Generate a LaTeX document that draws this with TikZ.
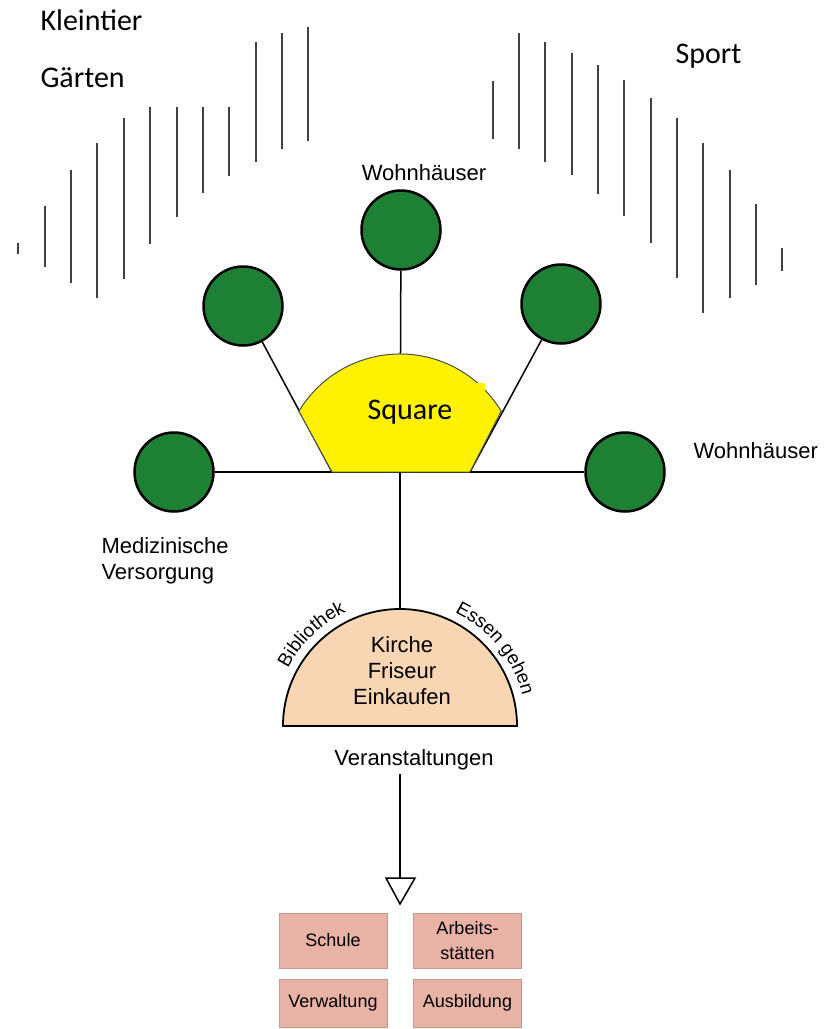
\documentclass[tikz,border=0pt]{standalone}
\usepackage{fontspec}
\setmainfont{Liberation Sans}
\newfontfamily\calibfont{Carlito}
\usetikzlibrary{decorations.text}
\usetikzlibrary{positioning}

\definecolor{parkgreen}{RGB}{30,128,52}
\definecolor{squareyellow}{RGB}{255,242,0}
\definecolor{peach}{RGB}{248,214,180}
\definecolor{salmon}{RGB}{232,178,165}
\definecolor{boxedge}{RGB}{195,152,142}
\definecolor{hatchgray}{RGB}{65,65,65}

\begin{document}
\begin{tikzpicture}[x=1pt, y=1pt, every node/.style={font=\fontsize{22}{26}\selectfont},
    house/.style={circle, draw=black, line width=2.5pt, fill=parkgreen, minimum size=79pt, inner sep=0pt},
    hatch/.style={line width=2pt, draw=hatchgray},
    spoke/.style={line width=1.5pt, draw=black},
    calib/.style={font=\calibfont\fontsize{30}{36}\selectfont},
    usebox/.style={draw=boxedge, fill=salmon, minimum width=108pt, inner sep=0pt, align=center, font=\fontsize{18}{25}\selectfont}]
    \useasboundingbox (0,0) rectangle (831,-1029);

    % lines of the gardens and the sports ground
    \foreach \x/\ya/\yb in {18/243/254, 45/206/267, 71/170/283, 97/143/298, 124/118/279, 150/107/244,
        177/107/217, 203/107/193, 229/107/176, 256/42/162, 282/33/149, 308/27/141}
        \draw[hatch] (\x,-\ya) -- (\x,-\yb);
    \foreach \x/\ya/\yb in {493/81/139, 519/33/149, 545/42/162, 572/53/175, 598/65/194, 624/80/216,
        651/98/243, 677/118/278, 703/143/313, 730/170/298, 756/204/285, 782/248/271}
        \draw[hatch] (\x,-\ya) -- (\x,-\yb);
    \node[calib, anchor=base west] (KT) at (37,-30) {Kleintier};
    \node[calib, anchor=base west] (GA) at (37,-87) {Gärten};
    \node[calib, anchor=base west] (SP) at (672,-63) {Sport};

    % houses round the square
    \coordinate (hub) at (400,-472);
    \coordinate (cL) at (332,-472);
    \coordinate (cR) at (470,-472);
    \node[house] (H1) at (243,-306) {};
    \node[house] (H2) at (401,-230) {};
    \node[house] (H3) at (561,-304) {};
    \node[house] (H4) at (174,-472) {};
    \node[house] (H5) at (625,-472) {};
    \draw[spoke] (H1) -- (cL);
    \draw[spoke] (H2) -- (hub);
    \draw[spoke] (H3) -- (cR);
    \draw[spoke] (H4) -- (H5);
    \node[anchor=base] (WT) at (424,-180) {Wohnhäuser};
    \node[anchor=base west] (WR) at (690,-458) {Wohnhäuser};
    \node[anchor=north west, align=left] (MV) at (98,-534) {Medizinische\\Versorgung};

    % square
    \draw[fill=squareyellow, draw=black!70, line width=1pt] (cL) -- (298.9,-411.2)
        arc[start angle=149, end angle=31, radius=118] -- (cR) -- cycle;
    \node[calib, fill=yellow, minimum width=150pt, minimum height=59pt] (SQ) at (410,-412.5) {Square};

    % centre with shops
    \coordinate (semitop) at (400,-609);
    \draw[spoke] (hub) -- (semitop);
    \draw[fill=peach, line width=1.8pt] (283,-726) arc[start angle=180, end angle=0, radius=117] -- cycle;
    \node[align=center] (KFE) at (402,-671) {Kirche\\Friseur\\Einkaufen};
    \path[decorate, decoration={text along path, text align=center,
        text={|\fontsize{19}{19}\selectfont|Bibliothek}}]
        (281.6,-682.9) arc[start angle=160, end angle=108, radius=126];
    \path[decorate, decoration={text along path, text align=center,
        text={|\fontsize{19}{19}\selectfont|Essen gehen}}]
        (443.1,-607.6) arc[start angle=70, end angle=8, radius=126];

    % events and what they lead to
    \node (VA) at (414,-760) {Veranstaltungen};
    \coordinate (T) at (400,-878);
    \draw[spoke] (T |- VA.south) -- (T);
    \draw[fill=white, line width=1.5pt] (386,-878) -- (415,-878) -- (400,-904) -- cycle;
    \node[usebox, minimum height=55pt] (B1) at (333,-940.5) {Schule};
    \node[usebox, minimum height=55pt] (B2) at (467.5,-940.5) {Arbeits-\\stätten};
    \node[usebox, minimum height=48pt] (B3) at (333,-1003) {Verwaltung};
    \node[usebox, minimum height=48pt] (B4) at (467.5,-1003) {Ausbildung};
\end{tikzpicture}
\end{document}
